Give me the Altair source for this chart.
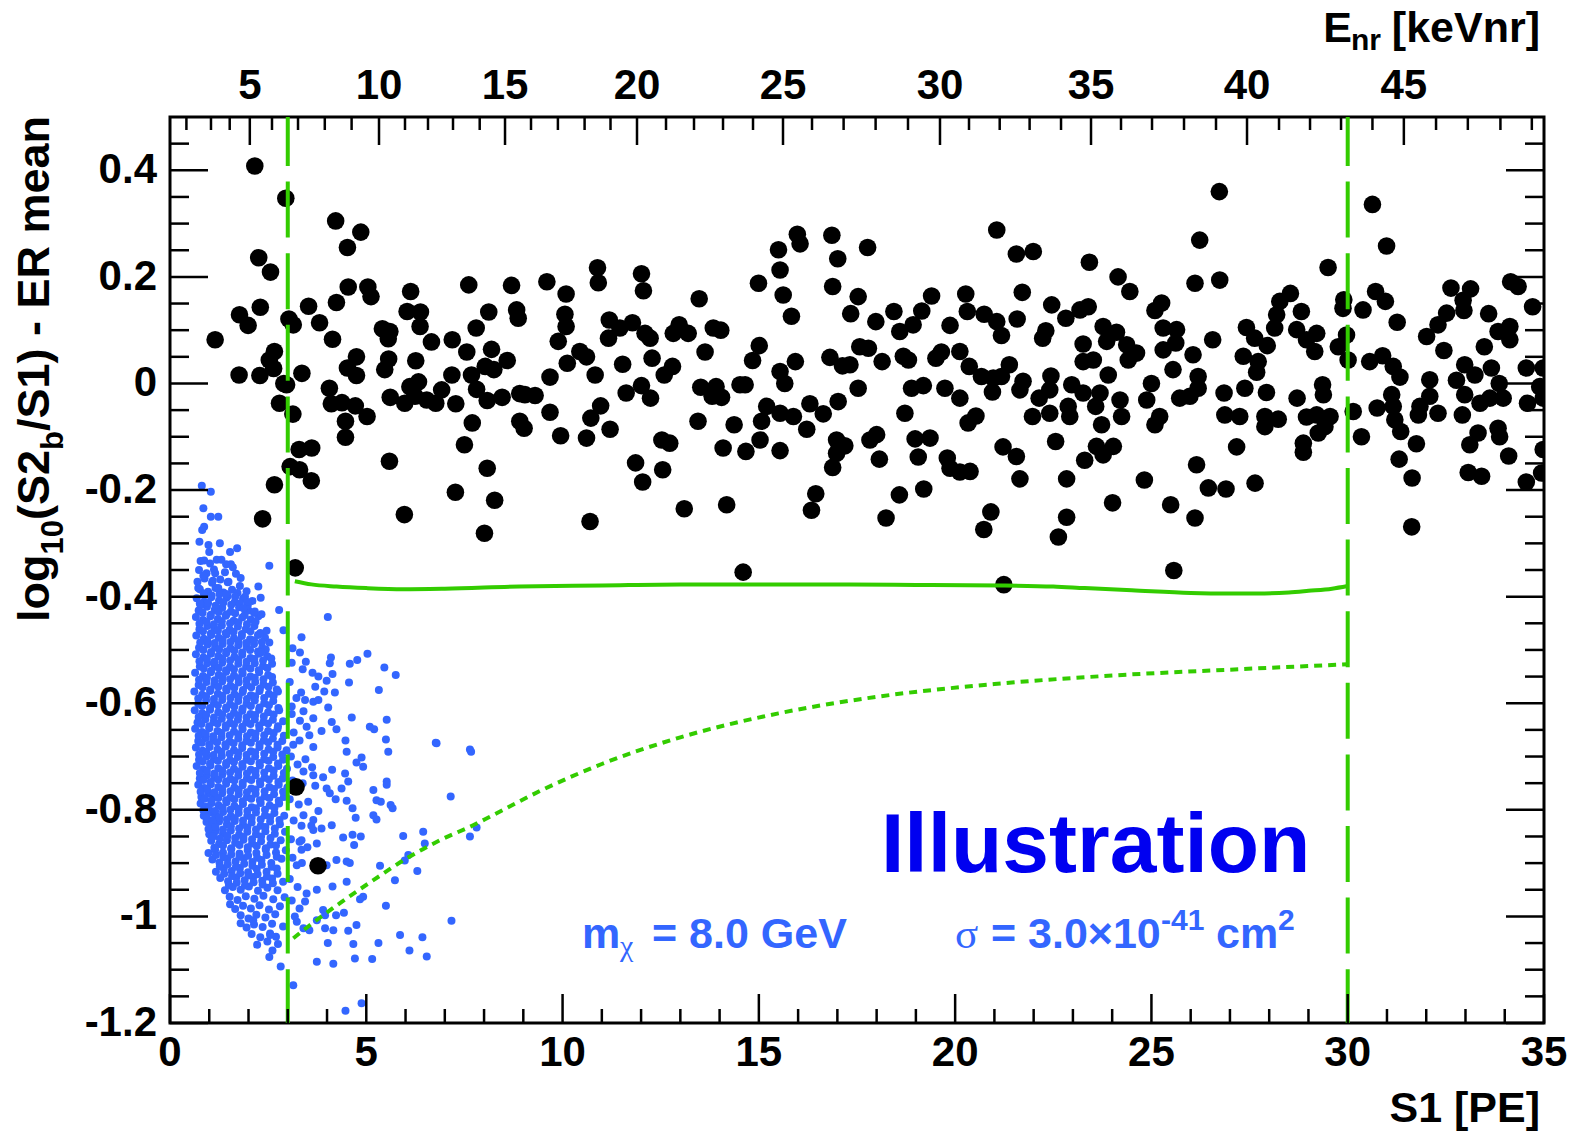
import altair as alt
import pandas as pd

# ---------------- data ----------------
BLACK_PTS = [
(2.16,0.408),(2.95,0.3475),(4.22,0.305),(4.86,0.284),(4.52,0.255),(2.26,0.236),(2.56,0.209),(4.54,0.181),(5.04,0.181),(5.12,0.163),(6.13,0.1725),(7.61,0.185),(8.70,0.184),(4.24,0.152),(3.53,0.145),(2.30,0.143),(1.77,0.129),(1.99,0.109),(3.03,0.121),(3.14,0.11),(3.81,0.114),(1.15,0.082),(4.14,0.083),(6.04,0.135),(6.38,0.134),(6.37,0.107),(8.12,0.134),(8.83,0.138),(8.87,0.1225),(7.80,0.104),(5.41,0.1025),(5.60,0.0975),(5.56,0.084),(6.66,0.078),(7.19,0.082),(7.56,0.059),(8.19,0.064),(2.66,0.06),(2.53,0.044),(4.75,0.05),(5.57,0.046),(6.26,0.0425),(8.59,0.043),(4.52,0.029),(5.47,0.026),(2.64,0.028),(1.76,0.016),(2.29,0.015),(3.36,0.019),(4.75,0.015),(8.03,0.032),(8.25,0.026),(7.18,0.016),(7.68,0.016),(2.97,-0.0025),(2.90,0.0),(4.06,-0.009),(6.33,0.003),(6.11,-0.006),(7.81,-0.011),(8.91,-0.019),(2.79,-0.037),(3.13,-0.0575),(4.11,-0.038),(4.38,-0.036),(4.72,-0.042),(5.02,-0.062),(4.47,-0.071),(4.47,-0.101),(5.61,-0.026),(5.98,-0.037),(6.24,-0.024),(6.54,-0.031),(6.77,-0.037),(6.92,-0.012),(7.28,-0.038),(8.08,-0.032),(8.46,-0.026),(7.70,-0.074),(8.91,-0.071),(7.50,-0.115),(3.29,-0.124),(3.61,-0.121),(3.06,-0.156),(3.30,-0.162),(3.60,-0.1825),(2.66,-0.19),(5.59,-0.146),(8.08,-0.159),(7.27,-0.204),(8.27,-0.219),(5.97,-0.246),(8.01,-0.281),(2.36,-0.254),(3.19,-0.346),
(15.98,0.28),(16.05,0.262),(16.86,0.278),(15.50,0.251),(17.01,0.234),(15.54,0.213),(16.88,0.182),(15.62,0.166),(17.53,0.163),(17.34,0.131),(15.83,0.126),(14.99,0.188),(13.48,0.159),(10.89,0.217),(10.91,0.189),(12.01,0.206),(12.06,0.174),(9.60,0.191),(10.09,0.168),(10.06,0.13),(10.09,0.107),(9.89,0.079),(11.19,0.119),(11.17,0.085),(11.46,0.104),(11.78,0.114),(12.10,0.094),(12.23,0.085),(12.97,0.11),(12.82,0.094),(13.20,0.094),(13.84,0.104),(14.03,0.1),(13.63,0.059),(10.44,0.06),(10.61,0.05),(10.12,0.038),(11.53,0.036),(12.28,0.0475),(12.80,0.032),(12.59,0.016),(10.83,0.016),(9.68,0.012),(15.01,0.071),(14.84,0.043),(15.93,0.041),(15.54,0.0225),(15.66,0.0),(16.81,0.049),(17.13,0.033),(17.57,0.069),(17.53,-0.009),(9.04,-0.021),(9.30,-0.0225),(11.62,-0.018),(12.01,-0.004),(12.24,-0.0275),(13.52,-0.007),(13.81,-0.024),(13.91,-0.006),(14.05,-0.026),(14.52,-0.0025),(14.65,-0.0025),(9.68,-0.054),(9.02,-0.084),(9.95,-0.098),(10.61,-0.1025),(10.72,-0.065),(10.97,-0.042),(11.21,-0.086),(13.45,-0.071),(14.37,-0.0775),(15.20,-0.043),(15.07,-0.071),(15.54,-0.056),(15.88,-0.062),(16.30,-0.038),(16.22,-0.086),(16.64,-0.057),(17.02,-0.034),(15.03,-0.106),(16.98,-0.106),(17.19,-0.117),(16.98,-0.131),(16.88,-0.1575),(12.53,-0.106),(12.73,-0.112),(14.09,-0.121),(14.67,-0.1275),(15.54,-0.126),(11.86,-0.149),(12.55,-0.162),(12.04,-0.185),(16.45,-0.207),(16.34,-0.238),(14.18,-0.2275),(13.10,-0.235),(10.70,-0.259),(14.60,-0.354),
(21.06,0.288),(17.77,0.255),(21.56,0.243),(21.99,0.2475),(23.42,0.2275),(24.15,0.2),(24.45,0.1725),(26.23,0.269),(26.11,0.188),(17.98,0.116),(18.44,0.135),(19.15,0.136),(19.40,0.164),(18.93,0.11),(18.59,0.0975),(19.87,0.109),(20.27,0.168),(20.31,0.135),(20.74,0.13),(21.06,0.116),(21.18,0.09),(21.71,0.171),(21.58,0.121),(22.46,0.1475),(22.31,0.099),(22.23,0.085),(22.82,0.1225),(23.18,0.138),(23.39,0.144),(25.26,0.151),(25.09,0.137),(23.77,0.107),(24.11,0.096),(23.86,0.079),(24.37,0.0725),(24.62,0.057),(24.41,0.044),(25.30,0.104),(25.64,0.101),(25.30,0.063),(25.62,0.076),(26.06,0.054),(25.55,0.026),(26.19,0.013),(17.79,0.066),(18.14,0.041),(18.68,0.051),(18.81,0.044),(17.32,0.035),(19.51,0.0475),(19.65,0.059),(20.12,0.06),(20.36,0.032),(20.67,0.013),(20.97,0.01),(21.38,0.035),(21.18,0.013),(23.26,0.074),(23.26,0.041),(23.52,0.044),(23.90,0.016),(22.44,0.014),(18.89,-0.009),(19.19,-0.004),(19.74,-0.009),(20.12,-0.0275),(20.95,-0.016),(21.73,0.004),(21.65,-0.012),(22.14,-0.0275),(22.41,-0.012),(22.97,-0.0025),(23.26,-0.018),(23.69,-0.018),(23.58,-0.043),(24.20,-0.031),(24.24,-0.062),(25.00,0.0),(24.88,-0.031),(25.21,-0.062),(25.09,-0.0775),(25.72,-0.0275),(25.98,-0.024),(26.19,-0.009),(21.97,-0.062),(22.41,-0.056),(22.92,-0.062),(22.88,-0.043),(23.73,-0.0775),(18.72,-0.056),(20.33,-0.074),(20.53,-0.061),(17.83,-0.106),(18.00,-0.096),(18.07,-0.142),(18.98,-0.104),(19.36,-0.1025),(19.06,-0.138),(19.80,-0.14),(19.87,-0.159),(20.12,-0.166),(20.38,-0.165),(21.22,-0.119),(21.56,-0.137),(21.65,-0.179),(22.56,-0.109),(22.84,-0.179),(23.30,-0.144),(23.60,-0.118),(24.03,-0.118),(23.77,-0.134),(24.82,-0.181),(26.15,-0.1525),(26.11,-0.2525),(18.58,-0.209),(19.20,-0.198),(18.24,-0.2525),(20.91,-0.241),(20.73,-0.274),(22.84,-0.251),(22.63,-0.288),(24.01,-0.224),(25.49,-0.2275),(25.57,-0.351),(21.24,-0.3775),
(26.73,0.36),(30.63,0.336),(30.99,0.258),(29.50,0.2175),(26.74,0.194),(28.54,0.169),(28.27,0.154),(28.82,0.135),(28.19,0.129),(28.14,0.104),(28.70,0.101),(29.90,0.157),(29.88,0.141),(30.39,0.138),(30.71,0.1725),(30.96,0.154),(31.26,0.115),(32.63,0.179),(33.13,0.1775),(32.94,0.156),(32.96,0.137),(32.52,0.132),(32.30,0.11),(32.01,0.088),(32.45,0.062),(33.59,0.131),(34.15,0.191),(34.34,0.182),(34.71,0.144),(34.13,0.107),(33.83,0.0975),(34.13,0.082),(33.48,0.069),(27.42,0.105),(27.63,0.085),(27.95,0.071),(26.56,0.082),(27.34,0.051),(27.72,0.041),(27.68,0.021),(27.38,-0.009),(27.93,-0.017),(26.85,-0.018),(28.95,0.082),(29.21,0.094),(29.16,0.06),(29.76,0.069),(29.97,0.091),(30.01,0.044),(30.56,0.041),(30.89,0.052),(31.16,0.032),(31.33,0.012),(32.09,0.007),(32.77,0.006),(32.98,0.035),(33.24,0.016),(33.66,0.029),(33.86,0.0),(34.55,0.029),(34.98,0.029),(34.89,-0.006),(29.36,-0.0025),(29.38,-0.021),(28.71,-0.0275),(31.12,-0.021),(31.16,-0.043),(32.09,-0.024),(31.84,-0.043),(32.30,-0.056),(31.80,-0.059),(32.98,-0.021),(33.37,-0.037),(33.62,-0.0275),(33.96,-0.0275),(32.92,-0.059),(34.58,-0.037),(34.98,-0.0275),(30.14,-0.0525),(30.75,-0.046),(31.20,-0.068),(31.35,-0.09),(30.35,-0.1),(31.75,-0.113),(31.31,-0.142),(31.64,-0.1775),(31.63,-0.269),(26.87,-0.059),(27.25,-0.062),(27.89,-0.062),(28.23,-0.067),(27.89,-0.081),(28.95,-0.063),(29.21,-0.059),(29.55,-0.062),(29.42,-0.081),(29.25,-0.093),(28.87,-0.112),(28.87,-0.129),(27.17,-0.119),(26.45,-0.196),(26.90,-0.198),(27.64,-0.187),(33.32,-0.093),(33.11,-0.115),(33.83,-0.084),(33.87,-0.1),(34.10,-0.136),(33.07,-0.167),(33.41,-0.174),(34.55,-0.185),(34.94,-0.168),(34.98,-0.124),
(3.21,-0.757),(3.77,-0.905),
]

BLUE_OUTER = [
(0.81,-0.192),(1.04,-0.203),(0.85,-0.234),(1.04,-0.25),(1.23,-0.25),(0.87,-0.269),(0.82,-0.275),(0.75,-0.297),(0.98,-0.303),(1.27,-0.30),(1.00,-0.316),(1.53,-0.316),(1.71,-0.309),(0.87,-0.332),(1.19,-0.331),(1.43,-0.339),(1.60,-0.345),(2.53,-0.342),(0.85,-0.361),(1.15,-0.356),(1.09,-0.37),(1.49,-0.372),(1.78,-0.38),(2.25,-0.381),(0.72,-0.384),(1.23,-0.384),(1.43,-0.395),(1.66,-0.40),(1.91,-0.40),(2.31,-0.402),(1.97,-0.41),(0.76,-0.413),(1.87,-0.422),(2.16,-0.428),(2.33,-0.433),(2.78,-0.425),(4.02,-0.438),(2.46,-0.464),(2.89,-0.463),(3.35,-0.476),(2.53,-0.486),(3.12,-0.497),(3.31,-0.505),(2.32,-0.505),(4.10,-0.514),(4.07,-0.525),(3.46,-0.522),(3.10,-0.524),(5.03,-0.507),(4.77,-0.519),(4.58,-0.526),(5.46,-0.533),(5.75,-0.547),(3.38,-0.536),(3.63,-0.543),(3.78,-0.55),(4.14,-0.545),(3.99,-0.558),(4.56,-0.561),(5.32,-0.575),(3.34,-0.58),(3.70,-0.569),(3.93,-0.578),(4.20,-0.58),(3.44,-0.594),(3.65,-0.597),(3.78,-0.594),(4.03,-0.608),(3.10,-0.606),(4.63,-0.627),(5.52,-0.631),(3.31,-0.633),(3.65,-0.628),(3.48,-0.644),(4.12,-0.635),(4.24,-0.649),(3.86,-0.652),(5.09,-0.644),(5.20,-0.649),(5.50,-0.668),(6.77,-0.674),(7.64,-0.687),(3.14,-0.678),(4.47,-0.67),(3.65,-0.682),
(5.56,-0.691),(7.67,-0.691),(6.79,-0.675),(4.50,-0.691),(4.88,-0.702),(4.75,-0.711),(4.92,-0.719),(4.13,-0.725),(4.46,-0.732),(4.54,-0.747),(3.90,-0.739),(3.65,-0.735),(3.40,-0.728),(5.52,-0.747),(5.52,-0.753),(5.18,-0.763),(3.99,-0.76),(4.37,-0.76),(5.26,-0.782),(5.37,-0.785),(5.62,-0.791),(5.67,-0.797),(7.15,-0.775),(4.50,-0.783),(4.65,-0.797),(4.22,-0.78),(4.07,-0.769),(3.78,-0.802),(5.18,-0.81),(5.26,-0.818),(4.73,-0.815),(3.65,-0.819),(4.12,-0.829),(3.86,-0.835),(3.35,-0.83),(3.65,-0.838),(6.45,-0.841),(5.94,-0.849),(4.65,-0.847),(4.86,-0.85),(4.41,-0.852),(6.49,-0.863),(7.64,-0.85),(7.81,-0.833),(4.69,-0.866),(3.74,-0.863),(3.35,-0.857),(3.35,-0.875),(6.07,-0.885),(5.98,-0.895),(6.30,-0.915),(5.35,-0.905),(5.73,-0.932),(4.50,-0.897),(4.58,-0.9),(4.24,-0.894),(3.99,-0.904),(3.23,-0.904),(4.50,-0.935),(4.14,-0.944),(3.74,-0.95),(3.48,-0.957),(3.44,-0.972),(4.92,-0.963),(4.84,-0.968),(5.50,-0.98),(4.43,-0.993),(3.90,-0.988),(4.23,-0.998),(3.95,-0.998),(3.74,-1.007),(3.95,-1.022),(4.16,-1.026),(3.55,-1.026),(3.40,-1.022),(3.23,-1.01),(4.75,-1.016),(4.54,-1.027),(7.17,-1.008),(5.86,-1.035),(6.43,-1.039),(4.67,-1.052),(5.31,-1.05),(6.10,-1.064),(6.54,-1.075),(4.02,-1.05),(4.71,-1.079),(5.15,-1.08),(4.16,-1.089),(3.74,-1.085),(2.53,-1.076),(2.61,-1.064),(2.82,-1.094),(3.14,-1.129),(4.47,-1.177),(4.88,-1.163),
(1.53,-0.977),(1.80,-1.013),(2.12,-1.007),(2.55,-1.035),(2.70,-1.038),
(3.05,-0.56),(3.22,-0.59),(3.10,-0.62),(3.40,-0.615),(3.15,-0.655),(3.30,-0.67),(3.55,-0.66),(3.08,-0.70),(3.25,-0.715),(3.45,-0.705),(3.62,-0.72),(3.12,-0.745),(3.38,-0.75),(3.70,-0.755),(3.05,-0.78),(3.28,-0.79),(3.52,-0.785),(3.15,-0.82),(3.40,-0.81),(3.60,-0.83),(3.08,-0.855),(3.30,-0.86),(3.50,-0.87),(3.12,-0.89),(3.36,-0.90),(3.05,-0.93),(3.25,-0.945),(3.10,-0.97),(3.30,-0.985),(3.18,-1.0),
]

BLUE_CORE = [
(0.78,-0.333),(1.02,-0.338),(1.31,-0.331),(1.55,-0.339),
(0.74,-0.350),(0.93,-0.356),(1.12,-0.349),(1.40,-0.354),(1.68,-0.357),
(0.70,-0.372),(0.88,-0.366),(1.07,-0.374),(1.28,-0.368),(1.47,-0.373),(1.80,-0.365),
(0.76,-0.386),(0.97,-0.391),(1.16,-0.384),(1.36,-0.392),(1.58,-0.387),(1.95,-0.39),
(0.68,-0.403),(0.87,-0.409),(1.05,-0.401),(1.25,-0.407),(1.44,-0.402),(1.65,-0.410),(1.86,-0.404),(2.10,-0.408),
(0.73,-0.426),(0.94,-0.419),(1.14,-0.425),(1.33,-0.421),(1.55,-0.428),(1.76,-0.420),(2.00,-0.426),
(0.66,-0.438),(0.84,-0.444),(1.03,-0.437),(1.22,-0.442),(1.42,-0.436),(1.62,-0.445),(1.84,-0.439),(2.06,-0.443),(2.25,-0.437),
(0.75,-0.461),(0.95,-0.455),(1.13,-0.460),(1.32,-0.454),(1.52,-0.462),(1.73,-0.456),(1.93,-0.461),(2.15,-0.455),
(0.67,-0.473),(0.86,-0.479),(1.05,-0.472),(1.24,-0.477),(1.44,-0.471),(1.63,-0.478),(1.83,-0.474),(2.04,-0.480),(2.24,-0.472),(2.42,-0.477),
(0.74,-0.496),(0.96,-0.490),(1.15,-0.495),(1.34,-0.489),(1.54,-0.497),(1.74,-0.491),(1.95,-0.494),(2.14,-0.489),(2.35,-0.496),
(0.66,-0.508),(0.85,-0.514),(1.04,-0.507),(1.23,-0.512),(1.43,-0.506),(1.64,-0.513),(1.84,-0.509),(2.05,-0.515),(2.26,-0.507),(2.48,-0.512),
(0.76,-0.531),(0.95,-0.525),(1.14,-0.530),(1.33,-0.524),(1.53,-0.532),(1.74,-0.526),(1.94,-0.531),(2.16,-0.525),(2.37,-0.530),(2.60,-0.526),
(0.64,-0.543),(0.84,-0.549),(1.04,-0.542),(1.24,-0.547),(1.43,-0.541),(1.63,-0.548),(1.85,-0.544),(2.05,-0.550),(2.27,-0.542),(2.50,-0.547),
(0.73,-0.566),(0.93,-0.560),(1.13,-0.565),(1.33,-0.559),(1.54,-0.567),(1.75,-0.561),(1.96,-0.566),(2.17,-0.560),(2.38,-0.565),(2.62,-0.561),
(0.62,-0.578),(0.82,-0.584),(1.02,-0.577),(1.22,-0.582),(1.44,-0.576),(1.64,-0.583),(1.85,-0.579),(2.06,-0.585),(2.28,-0.577),(2.52,-0.582),(2.75,-0.578),
(0.72,-0.601),(0.92,-0.595),(1.12,-0.600),(1.33,-0.594),(1.53,-0.602),(1.74,-0.596),(1.95,-0.601),(2.16,-0.595),(2.40,-0.600),(2.63,-0.596),
(0.63,-0.613),(0.82,-0.619),(1.02,-0.612),(1.23,-0.617),(1.43,-0.611),(1.63,-0.618),(1.84,-0.614),(2.05,-0.620),(2.27,-0.612),(2.50,-0.617),(2.78,-0.613),
(0.70,-0.636),(0.90,-0.630),(1.11,-0.635),(1.32,-0.629),(1.53,-0.637),(1.73,-0.631),(1.94,-0.636),(2.16,-0.630),(2.38,-0.635),(2.62,-0.631),(2.88,-0.634),
(0.64,-0.648),(0.81,-0.654),(1.00,-0.647),(1.21,-0.652),(1.42,-0.646),(1.63,-0.653),(1.85,-0.649),(2.06,-0.655),(2.28,-0.647),(2.50,-0.652),(2.74,-0.648),
(0.72,-0.671),(0.91,-0.665),(1.10,-0.670),(1.31,-0.664),(1.52,-0.672),(1.74,-0.666),(1.95,-0.671),(2.17,-0.665),(2.39,-0.670),(2.62,-0.666),(2.86,-0.671),
(0.66,-0.683),(0.83,-0.689),(1.01,-0.682),(1.21,-0.687),(1.42,-0.681),(1.63,-0.688),(1.84,-0.684),(2.06,-0.690),(2.28,-0.682),(2.51,-0.687),(2.74,-0.683),(2.97,-0.688),
(0.74,-0.706),(0.93,-0.700),(1.12,-0.705),(1.32,-0.699),(1.53,-0.707),(1.73,-0.701),(1.95,-0.706),(2.17,-0.700),(2.40,-0.705),(2.63,-0.701),(2.88,-0.706),
(0.68,-0.718),(0.85,-0.724),(1.03,-0.717),(1.23,-0.722),(1.43,-0.716),(1.63,-0.723),(1.85,-0.719),(2.06,-0.725),(2.29,-0.717),(2.52,-0.722),(2.76,-0.718),(2.98,-0.723),
(0.76,-0.741),(0.94,-0.735),(1.13,-0.740),(1.33,-0.734),(1.54,-0.742),(1.74,-0.736),(1.96,-0.741),(2.18,-0.735),(2.41,-0.740),(2.64,-0.736),(2.87,-0.741),
(0.72,-0.753),(0.87,-0.759),(1.04,-0.752),(1.23,-0.757),(1.43,-0.751),(1.64,-0.758),(1.85,-0.754),(2.07,-0.760),(2.30,-0.752),(2.53,-0.757),(2.77,-0.753),(2.99,-0.758),
(0.80,-0.776),(0.97,-0.770),(1.14,-0.775),(1.33,-0.769),(1.54,-0.777),(1.75,-0.771),(1.96,-0.776),(2.18,-0.770),(2.41,-0.775),(2.65,-0.771),(2.90,-0.776),
(0.78,-0.788),(0.92,-0.794),(1.06,-0.787),(1.24,-0.792),(1.44,-0.786),(1.64,-0.793),(1.86,-0.789),(2.08,-0.795),(2.31,-0.787),(2.54,-0.792),(2.78,-0.788),
(0.86,-0.811),(1.01,-0.805),(1.16,-0.810),(1.35,-0.804),(1.55,-0.812),(1.75,-0.806),(1.97,-0.811),(2.19,-0.805),(2.42,-0.810),(2.66,-0.806),(2.91,-0.811),
(0.93,-0.823),(1.07,-0.829),(1.25,-0.822),(1.45,-0.827),(1.65,-0.821),(1.86,-0.828),(2.08,-0.824),(2.31,-0.830),(2.55,-0.822),(2.80,-0.827),
(1.00,-0.846),(1.16,-0.840),(1.35,-0.845),(1.55,-0.839),(1.76,-0.847),(1.97,-0.841),(2.19,-0.846),(2.43,-0.840),(2.67,-0.845),(2.93,-0.841),
(1.05,-0.858),(1.25,-0.864),(1.45,-0.857),(1.66,-0.862),(1.87,-0.856),(2.09,-0.863),(2.32,-0.859),(2.56,-0.865),(2.82,-0.857),
(0.98,-0.881),(1.15,-0.875),(1.35,-0.880),(1.56,-0.874),(1.77,-0.882),(1.98,-0.876),(2.20,-0.881),(2.44,-0.875),(2.70,-0.880),(2.95,-0.876),
(1.08,-0.893),(1.26,-0.899),(1.46,-0.892),(1.67,-0.897),(1.88,-0.891),(2.10,-0.898),(2.33,-0.894),(2.58,-0.900),(2.84,-0.892),
(1.17,-0.916),(1.37,-0.910),(1.57,-0.915),(1.78,-0.909),(1.99,-0.917),(2.21,-0.911),(2.46,-0.916),(2.72,-0.910),
(1.28,-0.928),(1.48,-0.934),(1.69,-0.927),(1.90,-0.932),(2.12,-0.926),(2.35,-0.933),(2.60,-0.929),(2.88,-0.935),
(1.40,-0.951),(1.60,-0.945),(1.80,-0.950),(2.01,-0.944),(2.24,-0.952),(2.48,-0.946),(2.74,-0.951),
(1.52,-0.963),(1.72,-0.969),(1.93,-0.962),(2.15,-0.967),(2.38,-0.961),(2.63,-0.968),(2.92,-0.964),
(1.66,-0.986),(1.86,-0.980),(2.06,-0.985),(2.28,-0.979),(2.52,-0.987),(2.80,-0.981),
(1.80,-0.998),(2.00,-1.004),(2.20,-0.997),(2.43,-1.002),(2.68,-0.996),
(1.95,-1.021),(2.14,-1.015),(2.36,-1.020),(2.60,-1.014),(2.88,-1.019),
(2.08,-1.033),(2.30,-1.039),(2.55,-1.032),
(2.22,-1.053),(2.48,-1.047),(2.75,-1.052),
]

BLUE_CORE_FILL = [
(0.86,-0.394),(1.06,-0.398),(1.26,-0.395),(1.47,-0.399),(1.72,-0.393),
(0.78,-0.416),(0.97,-0.412),(1.16,-0.417),(1.36,-0.411),(1.56,-0.415),(1.78,-0.413),(1.98,-0.416),
(0.83,-0.430),(1.04,-0.434),(1.24,-0.429),(1.44,-0.433),(1.66,-0.431),(1.90,-0.435),(2.14,-0.430),
(0.75,-0.451),(0.93,-0.447),(1.12,-0.452),(1.32,-0.446),(1.53,-0.450),(1.74,-0.448),(1.96,-0.452),(2.18,-0.447),
(0.84,-0.465),(1.04,-0.469),(1.22,-0.464),(1.42,-0.468),(1.62,-0.466),(1.83,-0.470),(2.05,-0.465),(2.30,-0.468),
(0.77,-0.486),(0.95,-0.482),(1.14,-0.487),(1.34,-0.481),(1.54,-0.485),(1.74,-0.483),(1.94,-0.487),(2.14,-0.482),(2.34,-0.485),
(0.85,-0.500),(1.05,-0.504),(1.25,-0.499),(1.44,-0.503),(1.64,-0.501),(1.84,-0.505),(2.04,-0.500),(2.24,-0.503),(2.44,-0.499),
(0.75,-0.521),(0.94,-0.517),(1.13,-0.522),(1.33,-0.516),(1.53,-0.520),(1.74,-0.518),(1.95,-0.522),(2.15,-0.517),(2.37,-0.520),(2.58,-0.516),
(0.86,-0.535),(1.05,-0.539),(1.24,-0.534),(1.43,-0.538),(1.63,-0.536),(1.84,-0.540),(2.05,-0.535),(2.26,-0.538),(2.48,-0.534),
(0.74,-0.556),(0.94,-0.552),(1.14,-0.557),(1.34,-0.551),(1.53,-0.555),(1.74,-0.553),(1.95,-0.557),(2.16,-0.552),(2.38,-0.555),(2.60,-0.551),
(0.83,-0.570),(1.03,-0.574),(1.23,-0.569),(1.43,-0.573),(1.64,-0.571),(1.86,-0.575),(2.07,-0.570),(2.29,-0.573),(2.51,-0.569),(2.72,-0.574),
(0.72,-0.591),(0.92,-0.587),(1.12,-0.592),(1.33,-0.586),(1.54,-0.590),(1.75,-0.588),(1.96,-0.592),(2.17,-0.587),(2.40,-0.590),(2.64,-0.586),
(0.82,-0.605),(1.02,-0.609),(1.22,-0.604),(1.43,-0.608),(1.64,-0.606),(1.85,-0.610),(2.06,-0.605),(2.28,-0.608),(2.52,-0.604),(2.76,-0.609),
(0.73,-0.626),(0.92,-0.622),(1.12,-0.627),(1.33,-0.621),(1.53,-0.625),(1.74,-0.623),(1.95,-0.627),(2.17,-0.622),(2.39,-0.625),(2.64,-0.621),
(0.80,-0.639),(1.00,-0.643),(1.21,-0.638),(1.42,-0.642),(1.63,-0.640),(1.84,-0.644),(2.05,-0.639),(2.27,-0.642),(2.50,-0.638),(2.75,-0.643),
(0.73,-0.661),(0.91,-0.657),(1.10,-0.662),(1.31,-0.656),(1.52,-0.660),(1.74,-0.658),(1.96,-0.662),(2.18,-0.657),(2.40,-0.660),(2.64,-0.656),(2.90,-0.661),
(0.81,-0.674),(1.00,-0.678),(1.20,-0.673),(1.41,-0.677),(1.62,-0.675),(1.84,-0.679),(2.06,-0.674),(2.28,-0.677),(2.50,-0.673),(2.74,-0.678),
(0.74,-0.696),(0.92,-0.692),(1.11,-0.697),(1.31,-0.691),(1.52,-0.695),(1.74,-0.693),(1.95,-0.697),(2.17,-0.692),(2.40,-0.695),(2.63,-0.691),(2.86,-0.696),
(0.83,-0.709),(1.02,-0.713),(1.22,-0.708),(1.43,-0.712),(1.63,-0.710),(1.84,-0.714),(2.06,-0.709),(2.28,-0.712),(2.51,-0.708),(2.75,-0.713),
(0.76,-0.731),(0.94,-0.727),(1.13,-0.732),(1.33,-0.726),(1.53,-0.730),(1.74,-0.728),(1.96,-0.732),(2.18,-0.727),(2.40,-0.730),(2.64,-0.726),(2.90,-0.731),
(0.85,-0.744),(1.03,-0.748),(1.23,-0.743),(1.43,-0.747),(1.64,-0.745),(1.85,-0.749),(2.07,-0.744),(2.29,-0.747),(2.52,-0.743),(2.76,-0.748),
(0.78,-0.766),(0.95,-0.762),(1.13,-0.767),(1.33,-0.761),(1.54,-0.765),(1.75,-0.763),(1.96,-0.767),(2.18,-0.762),(2.41,-0.765),(2.65,-0.761),(2.88,-0.766),
(0.88,-0.779),(1.05,-0.783),(1.23,-0.778),(1.43,-0.782),(1.64,-0.780),(1.85,-0.784),(2.07,-0.779),(2.29,-0.782),(2.53,-0.778),(2.77,-0.783),
(0.85,-0.801),(0.99,-0.797),(1.15,-0.802),(1.34,-0.796),(1.54,-0.800),(1.75,-0.798),(1.97,-0.802),(2.19,-0.797),(2.42,-0.800),(2.66,-0.796),
(0.93,-0.815),(1.09,-0.819),(1.26,-0.814),(1.45,-0.818),(1.65,-0.816),(1.86,-0.820),(2.08,-0.815),(2.31,-0.818),(2.55,-0.814),(2.79,-0.819),
(0.98,-0.836),(1.16,-0.832),(1.35,-0.837),(1.55,-0.831),(1.76,-0.835),(1.97,-0.833),(2.19,-0.837),(2.43,-0.832),(2.67,-0.835),
(1.10,-0.850),(1.27,-0.854),(1.46,-0.849),(1.66,-0.853),(1.87,-0.851),(2.09,-0.855),(2.32,-0.850),(2.56,-0.853),
(1.13,-0.871),(1.35,-0.867),(1.56,-0.872),(1.77,-0.866),(1.98,-0.870),(2.21,-0.868),(2.44,-0.872),(2.70,-0.867),
(1.17,-0.885),(1.36,-0.889),(1.56,-0.884),(1.77,-0.888),(1.99,-0.886),(2.22,-0.890),(2.46,-0.885),(2.72,-0.888),
(1.27,-0.906),(1.47,-0.902),(1.68,-0.907),(1.89,-0.901),(2.10,-0.905),(2.34,-0.903),(2.59,-0.907),
(1.38,-0.920),(1.58,-0.924),(1.79,-0.919),(2.00,-0.923),(2.23,-0.921),(2.47,-0.925),(2.74,-0.920),
(1.50,-0.941),(1.70,-0.937),(1.91,-0.942),(2.13,-0.936),(2.36,-0.940),(2.62,-0.938),
]

CUT_S1 = [3.0, 30.0]

SOLID_S1 = [3.18, 3.6, 4.24, 5.0, 5.94, 7.0, 8.9, 11.0, 13.0, 15.0, 17.3, 19.0, 21.2, 22.5, 23.3, 24.5, 26.0, 27.0, 27.7, 28.5, 29.0, 29.6, 30.0]
SOLID_Y = [-0.371, -0.377, -0.381, -0.384, -0.386, -0.385, -0.381, -0.379, -0.377, -0.377, -0.377, -0.378, -0.379, -0.381, -0.384, -0.388, -0.393, -0.394, -0.394, -0.392, -0.389, -0.385, -0.380]

DOTTED_S1 = [3.14, 3.52, 4.33, 5.18, 6.03, 6.88, 7.72, 8.15, 9.5, 11.0, 13.0, 15.5, 18.0, 21.0, 24.0, 27.0, 30.0]
DOTTED_Y = [-1.041, -1.019, -0.975, -0.932, -0.891, -0.857, -0.829, -0.813, -0.762, -0.714, -0.664, -0.619, -0.588, -0.564, -0.548, -0.537, -0.527]

X_LABELS = [0, 5, 10, 15, 20, 25, 30, 35]
X_MINOR = [1, 2, 3, 4, 6, 7, 8, 9, 11, 12, 13, 14, 16, 17, 18, 19, 21, 22, 23, 24, 26, 27, 28, 29, 31, 32, 33, 34]
Y_LABELS = [0.4, 0.2, 0.0, -0.2, -0.4, -0.6, -0.8, -1.0, -1.2]
Y_LABEL_TEXT = ["0.4", "0.2", "0", "-0.2", "-0.4", "-0.6", "-0.8", "-1", "-1.2"]
Y_MINOR = [0.45, 0.35, 0.3, 0.25, 0.15, 0.1, 0.05, -0.05, -0.1, -0.15, -0.25, -0.3, -0.35, -0.45, -0.5, -0.55,
           -0.65, -0.7, -0.75, -0.85, -0.9, -0.95, -1.05, -1.1, -1.15]

# top axis: E_nr [keVnr] positions expressed in S1
KEV_VALUES = list(range(2, 50))
KEV_S1 = [0.418, 1.044, 1.521, 2.033, 2.598, 3.261, 3.943, 4.626, 5.324, 5.986, 6.572, 7.209, 7.889, 8.534,
          9.196, 9.881, 10.561, 11.221, 11.896, 12.635, 13.348, 14.087, 14.851, 15.615, 16.354, 17.159, 17.974,
          18.799, 19.614, 20.353, 21.135, 21.897, 22.697, 23.461, 24.225, 25.015, 25.830, 26.645, 27.435, 28.25,
          29.04, 29.83, 30.63, 31.43, 32.25, 33.06, 33.89, 34.69]

# ---------------- styling ----------------
W, H = 1374, 906
FONT = "Liberation Sans"
GREEN = "#33cc00"
PT_BLUE = "#3366ff"
BIG_BLUE = "#0000f0"

XS = alt.Scale(domain=[0, 35], nice=False, zero=False)
YS = alt.Scale(domain=[-1.2, 0.5], nice=False, zero=False)

def X(field="s1"):
    return alt.X(f"{field}:Q", scale=XS, axis=None)

def Y(field="y"):
    return alt.Y(f"{field}:Q", scale=YS, axis=None)

black_df = pd.DataFrame(BLACK_PTS, columns=["s1", "y"])
blue_df = pd.DataFrame(BLUE_CORE + BLUE_CORE_FILL + BLUE_OUTER, columns=["s1", "y"])
solid_df = pd.DataFrame({"s1": SOLID_S1, "y": SOLID_Y})
dotted_df = pd.DataFrame({"s1": DOTTED_S1, "y": DOTTED_Y})
cut_df = pd.DataFrame({"s1": CUT_S1})
kev_df = pd.DataFrame({"kev": KEV_VALUES, "s1": KEV_S1})
kev_major_df = kev_df[kev_df["kev"] % 5 == 0].copy()
kev_major_df["lab"] = kev_major_df["kev"].astype(str)
kev_minor_df = kev_df[kev_df["kev"] % 5 != 0]
xlab_df = pd.DataFrame({"s1": X_LABELS, "lab": [str(v) for v in X_LABELS]})
ylab_df = pd.DataFrame({"y": Y_LABELS, "lab": Y_LABEL_TEXT})

blue = alt.Chart(blue_df).mark_circle(size=64, color=PT_BLUE, opacity=1, clip=True).encode(x=X(), y=Y())
black = alt.Chart(black_df).mark_circle(size=310, color="black", opacity=1, clip=True).encode(x=X(), y=Y())
cuts = alt.Chart(cut_df).mark_rule(color=GREEN, strokeWidth=4, strokeDash=[56, 15.6], strokeDashOffset=7).encode(
    x=X(), y=alt.value(0), y2=alt.value(H))
solid = alt.Chart(solid_df).mark_line(color=GREEN, strokeWidth=4, interpolate="monotone").encode(x=X(), y=Y())
dotted = alt.Chart(dotted_df).mark_line(color=GREEN, strokeWidth=4, strokeDash=[8, 6],
                                        interpolate="monotone").encode(x=X(), y=Y())

TW = 2.5
def yticks(vals, length, right=False):
    x0, x1 = (W - length, W) if right else (0, length)
    return alt.Chart(pd.DataFrame({"y": vals})).mark_rule(color="black", strokeWidth=TW).encode(
        y=Y(), x=alt.value(x0), x2=alt.value(x1))

def xticks(df, length, top=False):
    y0, y1 = (0, length) if top else (H - length, H)
    return alt.Chart(df).mark_rule(color="black", strokeWidth=TW).encode(
        x=X(), y=alt.value(y0), y2=alt.value(y1))

tick_layers = [
    yticks(Y_LABELS, 38), yticks(Y_MINOR, 19),
    yticks(Y_LABELS, 38, right=True), yticks(Y_MINOR, 19, right=True),
    xticks(pd.DataFrame({"s1": X_LABELS}), 29), xticks(pd.DataFrame({"s1": X_MINOR}), 14),
    xticks(kev_major_df[["s1"]], 28, top=True), xticks(kev_minor_df[["s1"]], 13, top=True),
]

LBL = dict(font=FONT, fontSize=42, fontWeight="bold", color="black")
top_labels = alt.Chart(kev_major_df).mark_text(align="center", baseline="alphabetic", **LBL).encode(
    x=X(), y=alt.value(-18), text="lab:N")
bottom_labels = alt.Chart(xlab_df).mark_text(align="center", baseline="alphabetic", **LBL).encode(
    x=X(), y=alt.value(949), text="lab:N")
left_labels = alt.Chart(ylab_df).mark_text(align="right", baseline="middle", **LBL).encode(
    y=Y(), x=alt.value(-13), text="lab:N")

def txt(s, x, y, size, color="black", font=FONT, weight="bold", angle=0, align="left"):
    return alt.Chart(pd.DataFrame({"t": [s]})).mark_text(
        font=font, fontSize=size, fontWeight=weight, color=color, angle=angle,
        align=align, baseline="alphabetic").encode(x=alt.value(x), y=alt.value(y), text="t:N")

texts = [
    # top axis title
    txt("[keVnr]", 1370, -75, 43, align="right"),
    txt("nr", 1211, -67, 30, align="right"),
    txt("E", 1182, -75, 43, align="right"),
    # bottom axis title
    txt("S1 [PE]", 1370, 1005, 43, align="right"),
    # y axis title (rotated)
    txt("log", -121, 505, 45, angle=270),
    txt("10", -107.5, 437.5, 31, angle=270),
    txt("(S2", -121, 403, 45, angle=270),
    txt("b", -107.5, 333, 31, angle=270),
    txt("/S1) - ER mean", -121, 314, 45, angle=270),
    # annotations
    txt("Illustration", 711, 755, 84, color=BIG_BLUE),
    txt("m", 412, 831, 43, color=PT_BLUE),
    txt("χ", 450, 839, 30, color=PT_BLUE, font="Liberation Serif", weight="normal"),
    txt("= 8.0 GeV", 482, 831, 43, color=PT_BLUE),
    txt("σ", 785, 831, 43, color=PT_BLUE, font="Liberation Serif", weight="normal"),
    txt("= 3.0×10", 821, 831, 43, color=PT_BLUE),
    txt("-41", 991, 813, 30, color=PT_BLUE),
    txt("cm", 1046, 831, 43, color=PT_BLUE),
    txt("2", 1108, 813, 30, color=PT_BLUE),
]

chart = alt.layer(blue, black, cuts, solid, dotted, *tick_layers, top_labels, bottom_labels, left_labels,
                  *texts).properties(
    width=W, height=H,
    autosize=alt.AutoSizeParams(type="none"),
    padding={"left": 170, "top": 117, "right": 27, "bottom": 111},
    background="white",
).configure_view(stroke="black", strokeWidth=3)

chart.save("out.html", embed_options={"renderer": "svg", "actions": False})
